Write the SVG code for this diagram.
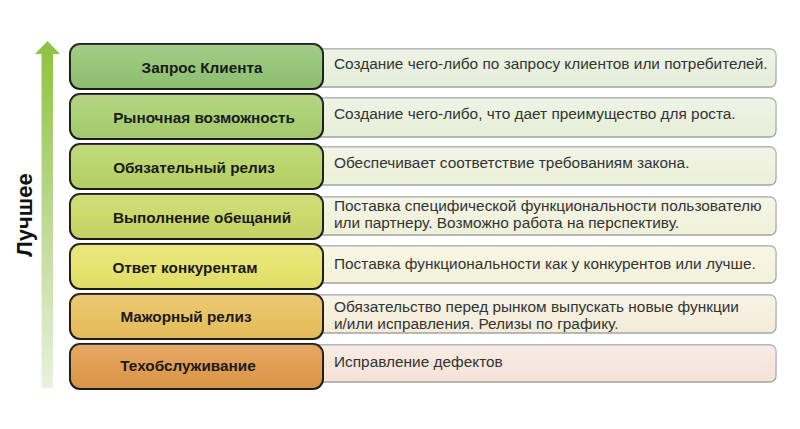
<svg xmlns="http://www.w3.org/2000/svg" width="800" height="429" viewBox="0 0 800 429">
  <defs>
    <linearGradient id="arrowGrad" x1="0" y1="0" x2="0" y2="1">
      <stop offset="0" stop-color="#8cc23f"/>
      <stop offset="0.5" stop-color="#bcd98f"/>
      <stop offset="1" stop-color="#e9f1de"/>
    </linearGradient>
    <linearGradient id="shine" x1="0" y1="0" x2="0" y2="1">
      <stop offset="0" stop-color="#ffffff" stop-opacity="0.15"/>
      <stop offset="0.5" stop-color="#ffffff" stop-opacity="0.04"/>
      <stop offset="1" stop-color="#000000" stop-opacity="0.03"/>
    </linearGradient>
    <linearGradient id="descShine" x1="0" y1="0" x2="0" y2="1">
      <stop offset="0" stop-color="#ffffff" stop-opacity="0.35"/>
      <stop offset="1" stop-color="#ffffff" stop-opacity="0"/>
    </linearGradient>
  </defs>
  <style>
    .lvl { stroke: #1c1c1c; stroke-width: 2; }
    .desc { stroke: #a3a3a3; stroke-width: 1.3; }
    .lbl { font-family: "Liberation Sans", Arial, sans-serif; font-weight: bold; font-size: 15.3px; fill: #1a1a1a; text-anchor: middle; }
    .txt { font-family: "Liberation Sans", Arial, sans-serif; font-size: 15.4px; fill: #333333; }
    .axis { font-family: "Liberation Sans", Arial, sans-serif; font-weight: bold; font-size: 22px; fill: #111111; text-anchor: middle; }
  </style>
  <rect width="800" height="429" fill="#ffffff"/>

  <g id="arrow">
    <polygon points="47.5,41 60,54 53,54 53,388 41.5,388 41.5,54 35,54" fill="url(#arrowGrad)"/>
    <text class="axis" transform="translate(31.5,215) rotate(-90)">Лучшее</text>
  </g>

  <g id="row1">
    <rect class="desc" x="305" y="49" width="471" height="38" rx="6" fill="#e4eed8"/>
    <rect x="305" y="49" width="471" height="38" rx="6" fill="url(#descShine)"/>
    <rect class="lvl" x="70" y="44" width="253" height="45" rx="10" fill="#92c474"/>
    <rect x="70" y="44" width="253" height="45" rx="10" fill="url(#shine)"/>
    <text class="lbl" x="202" y="73">Запрос Клиента</text>
    <text class="txt" x="334" y="69">Создание чего-либо по запросу клиентов или потребителей.</text>
  </g>

  <g id="row2">
    <rect class="desc" x="305" y="98" width="471" height="39" rx="6" fill="#e6efd8"/>
    <rect x="305" y="98" width="471" height="39" rx="6" fill="url(#descShine)"/>
    <rect class="lvl" x="70" y="94" width="253" height="45" rx="10" fill="#a8cf71"/>
    <rect x="70" y="94" width="253" height="45" rx="10" fill="url(#shine)"/>
    <text class="lbl" x="204" y="123">Рыночная возможность</text>
    <text class="txt" x="334" y="119">Создание чего-либо, что дает преимущество для роста.</text>
  </g>

  <g id="row3">
    <rect class="desc" x="305" y="147" width="471" height="38" rx="6" fill="#ebf0d8"/>
    <rect x="305" y="147" width="471" height="38" rx="6" fill="url(#descShine)"/>
    <rect class="lvl" x="70" y="144" width="253" height="45" rx="10" fill="#b8d467"/>
    <rect x="70" y="144" width="253" height="45" rx="10" fill="url(#shine)"/>
    <text class="lbl" x="194" y="173">Обязательный релиз</text>
    <text class="txt" x="334" y="168">Обеспечивает соответствие требованиям закона.</text>
  </g>

  <g id="row4">
    <rect class="desc" x="305" y="197" width="471" height="38" rx="6" fill="#eff1d9"/>
    <rect x="305" y="197" width="471" height="38" rx="6" fill="url(#descShine)"/>
    <rect class="lvl" x="70" y="194" width="253" height="45" rx="10" fill="#c8d866"/>
    <rect x="70" y="194" width="253" height="45" rx="10" fill="url(#shine)"/>
    <text class="lbl" x="202" y="223">Выполнение обещаний</text>
    <text class="txt" x="334" y="211">Поставка специфической функциональности пользователю</text>
    <text class="txt" x="334" y="228">или партнеру. Возможно работа на перспективу.</text>
  </g>

  <g id="row5">
    <rect class="desc" x="305" y="246" width="471" height="37" rx="6" fill="#f4f2d8"/>
    <rect x="305" y="246" width="471" height="37" rx="6" fill="url(#descShine)"/>
    <rect class="lvl" x="70" y="244" width="253" height="45" rx="10" fill="#e6e36b"/>
    <rect x="70" y="244" width="253" height="45" rx="10" fill="url(#shine)"/>
    <text class="lbl" x="185" y="273">Ответ конкурентам</text>
    <text class="txt" x="334" y="269">Поставка функциональности как у конкурентов или лучше.</text>
  </g>

  <g id="row6">
    <rect class="desc" x="305" y="295" width="471" height="38" rx="6" fill="#f4ecd8"/>
    <rect x="305" y="295" width="471" height="38" rx="6" fill="url(#descShine)"/>
    <rect class="lvl" x="70" y="294" width="253" height="45" rx="10" fill="#e8c05e"/>
    <rect x="70" y="294" width="253" height="45" rx="10" fill="url(#shine)"/>
    <text class="lbl" x="186" y="322">Мажорный релиз</text>
    <text class="txt" x="334" y="312">Обязательство перед рынком выпускать новые функции</text>
    <text class="txt" x="334" y="329">и/или исправления. Релизы по графику.</text>
  </g>

  <g id="row7">
    <rect class="desc" x="305" y="345" width="471" height="37" rx="6" fill="#f4e2d6"/>
    <rect x="305" y="345" width="471" height="37" rx="6" fill="url(#descShine)"/>
    <rect class="lvl" x="70" y="344" width="253" height="45" rx="10" fill="#e09a4b"/>
    <rect x="70" y="344" width="253" height="45" rx="10" fill="url(#shine)"/>
    <text class="lbl" x="188" y="371">Техобслуживание</text>
    <text class="txt" x="334" y="367">Исправление дефектов</text>
  </g>

  <g id="connectors"></g>
</svg>
